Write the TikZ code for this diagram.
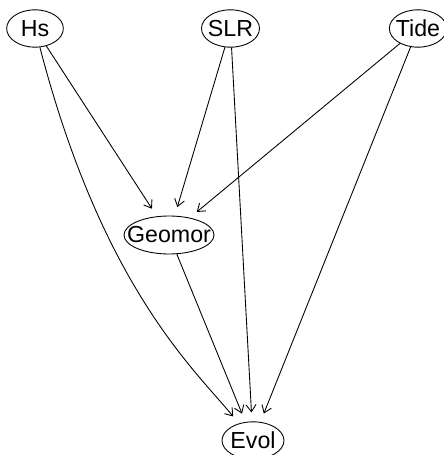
\documentclass[tikz,border=0pt]{standalone}
\usepackage{fontspec}
\setmainfont{Liberation Sans}
\usetikzlibrary{shapes.geometric,arrows.meta}
\begin{document}
\begin{tikzpicture}[x=0.03cm, y=-0.03cm,
    var/.style={ellipse, draw, inner sep=0pt, line width=0.75pt,
      font=\fontsize{19.8pt}{24pt}\selectfont},
    edge/.style={line width=0.75pt, shorten >=0.27cm,
      -{Straight Barb[length=0.21cm, width=0.3cm]}}]
  \useasboundingbox (0,0) rectangle (443,455);

  % variables
  \node[var, minimum width=1.7cm, minimum height=1.12cm] (Hs) at (35,28.5) {\makebox[0pt]{Hs}};
  \node[var, minimum width=1.74cm, minimum height=1.12cm] (SLR) at (230.5,28.5) {\makebox[0pt]{SLR}};
  \node[var, minimum width=1.72cm, minimum height=1.12cm] (Tide) at (418,28.5) {\makebox[0pt]{Tide}};
  \node[var, minimum width=2.7cm, minimum height=1.14cm] (Geomor) at (169,235) {\makebox[0pt]{Geomor}};
  \node[var, minimum width=1.86cm, minimum height=1.12cm] (Evol) at (253,440.5) {\makebox[0pt]{Evol}};

  % links
  \draw[edge] (Hs) -- (Geomor);
  \draw[edge] (SLR) -- (Geomor);
  \draw[edge] (Tide) -- (Geomor);
  \draw[edge] (Hs) .. controls (102,286) and (194,369) .. (Evol);
  \draw[edge] (Geomor) -- (Evol);
  \draw[edge] (SLR) -- (Evol);
  \draw[edge] (Tide) -- (Evol);
\end{tikzpicture}
\end{document}
